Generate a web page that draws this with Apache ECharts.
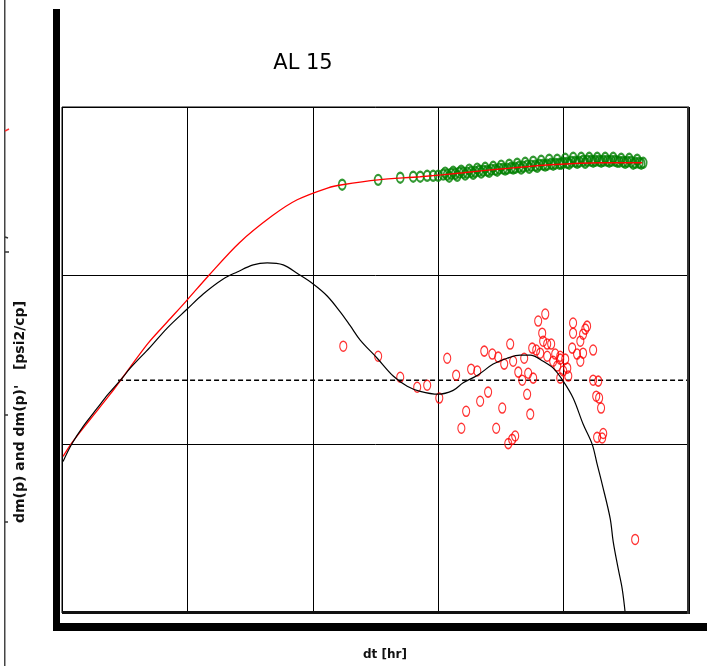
<!DOCTYPE html>
<html>
<head>
<meta charset="utf-8">
<script src="https://cdn.jsdelivr.net/npm/echarts@6/dist/echarts.min.js"></script>
<style>
html,body{margin:0;padding:0;background:#fff;}
#chart{width:707px;height:666px;}
</style>
</head>
<body>
<div id="chart"></div>
<script>
// Pressure change dm(p) – red line
var presT = [0.00102,0.001206,0.001679,0.002423,0.0035,0.004868,0.0069,0.00978,0.01492,0.02588,0.04746,0.07508,0.1327,0.1715,0.332,0.719,1.583,3.298,7.82,19.58,42.35];
var presY = [8.49,10.28,14.08,19.82,28.68,39.8,53.1,70.7,101,156.4,226.3,281.8,332,346,370,386,407.6,430.5,454.7,467.3,467.3];

// Pressure data points – green markers
var greenT = [0.1715,0.332,0.498,0.632,0.719,0.817,0.912,1.0,1.096,1.18,1.27,1.367,1.471,1.583,1.703,1.833,1.973,2.123,2.285,2.459,2.646,2.848,3.065,3.298,3.549,3.82,4.111,4.424,4.762,5.124,5.514,5.935,6.387,6.874,7.398,7.961,8.57,9.224,9.93,10.69,11.5,12.38,13.32,14.33,15.43,16.6,17.86,19.23,20.69,22.27,23.97,25.79,27.76,29.88,32.15,34.6,37.24,40.08,43.13,
  1.137,1.224,1.317,1.418,1.526,1.642,1.767,1.902,2.046,2.202,2.370,2.551,2.745,2.955,3.180,3.422,3.683,3.964,4.266,
  4.591,4.941,5.317,5.722,6.159,6.628,7.133,7.677,8.262,8.892,9.570,10.30,11.08,11.93,12.84,13.82,14.87,16.00,17.22,18.53,19.94,21.47,23.10,24.86,26.76,28.80,30.99,33.36,35.89,38.63,41.57];
var greenY = [346,370,381,386,386,391,391,391,397,397,402,402,408,408,408,413,413,419,419,419,425,425,431,431,431,436,436,442,442,449,449,449,455,455,455,461,461,461,467,467,474,474,474,480,480,480,480,480,480,480,480,480,474,474,474,474,467,467,467,
  408,386,413,391,419,397,425,402,431,408,436,413,442,419,449,425,455,431,461,
  431,467,436,474,442,480,449,487,455,487,461,493,461,500,467,500,467,500,474,500,474,500,474,500,474,493,467,493,461,487,461];

// Derivative model – black line
var derivT = [0.00102,0.001206,0.001476,0.001909,0.002335,0.00302,0.0035,0.00505,0.0069,0.00996,0.01337,0.0193,0.02495,0.03347,0.04329,0.05808,0.07648,0.1007,0.1302,0.1654,0.1987,0.2388,0.3263,0.4377,0.566,0.719,1.0,1.317,1.583,2.046,2.745,3.549,4.507,5.415,6.874,8.264,9.93,11.93,14.33,16.91,18.53,20.32,23.53,24.86,27.25,29.33,30.99];
var derivY = [7.92,10.14,12.79,16.37,19.82,24.67,28.28,37.7,48.9,63.4,77.9,95.6,105.2,115.8,119.0,115.8,102.3,89.3,75.8,61.0,50.5,41.5,32.4,25.4,22.1,20.6,19.82,20.9,23.2,25.6,29.9,32.4,33.8,33.8,31.1,28.28,23.7,18.76,13.15,10.0,7.60,5.79,3.63,2.65,1.83,1.39,1.0];

// Derivative data points – red markers
var dpT = [0.175,0.332,0.498,0.680,0.817,1.02,1.18,1.39,1.83,2.05,1.67,1.53,2.16,2.50,2.90,3.24,2.33,2.70,3.01,3.36,3.75,3.96,4.35,4.68,5.12,5.42,3.62,4.11,3.89,4.85,5.22,5.72,5.62,6.05,6.27,7.14,6.75,6.87,7.40,7.96,6.51,7.40,8.26,8.89,8.57,9.40,10.3,10.7,10.9,9.93,9.40,11.7,11.9,11.9,12.8,13.6,14.3,15.4,14.9,13.6,14.3,17.2,9.40,17.2,18.9,18.2,19.2,19.9,20.3,18.5,20.7,37.2];
var dpY = [38.2,33.3,25.0,21.8,22.4,18.8,32.4,25.7,27.9,27.2,15.7,12.45,18.0,20.4,12.45,16.4,35.7,34.3,32.9,29.9,39.3,31.1,26.8,24.0,19.8,15.1,10.1,11.2,10.7,32.4,26.4,24.7,37.2,36.2,53.8,59.2,45.6,40.9,39.3,39.3,34.7,33.3,31.1,29.1,34.3,33.3,32.0,28.3,25.4,27.2,24.7,37.2,52.4,45.6,34.3,40.9,45.0,50.2,48.2,31.1,34.7,36.2,32.0,24.0,23.7,19.3,18.8,16.4,10.9,11.0,11.6,2.73];

// Horizontal dashed reference line
var dashT = [0.0028,100];
var dashY = [24.0,24.0];

function zip(a,b){var r=[];for(var i=0;i<a.length;i++)r.push([a[i],b[i]]);return r;}

var chart = echarts.init(document.getElementById('chart'), null, {renderer:'canvas'});
var option = {
  backgroundColor:'#fff',
  animation:false,
  grid:{left:62,top:107,right:18,bottom:53,show:true,borderColor:'#000',borderWidth:1,backgroundColor:'#fff'},
  xAxis:{type:'log',logBase:10,min:0.001,max:100,
    axisLine:{show:false},axisTick:{show:false},axisLabel:{show:false},
    splitLine:{show:true,lineStyle:{color:'#000',width:1}}},
  yAxis:{type:'log',logBase:10,min:1,max:1000,
    axisLine:{show:false},axisTick:{show:false},axisLabel:{show:false},
    splitLine:{show:true,lineStyle:{color:'#000',width:1}}},
  series:[
    {type:'line',data:zip(dashT,dashY),symbol:'none',lineStyle:{color:'#000',width:1.5,type:[5,3]},z:2},
    {type:'scatter',data:zip(greenT,greenY),symbol:'circle',symbolSize:[7,10],
      itemStyle:{color:'rgba(0,0,0,0)',borderColor:'#008000',borderWidth:2},z:3},
    {type:'line',data:zip(presT,presY),symbol:'none',smooth:0.3,lineStyle:{color:'#ff0000',width:1.3},z:4},
    {type:'scatter',data:zip(dpT,dpY),symbol:'circle',symbolSize:[7,10],
      itemStyle:{color:'rgba(0,0,0,0)',borderColor:'#ff0000',borderWidth:1.3},z:5},
    {type:'line',data:zip(derivT,derivY),symbol:'none',smooth:0.35,lineStyle:{color:'#000',width:1.2},z:6}
  ],
  graphic:[
    {type:'rect',shape:{x:62,y:611,width:628,height:3},style:{fill:'#111'},z:100},
    {type:'rect',shape:{x:687,y:107,width:2,height:507},style:{fill:'#333'},z:100},
    {type:'rect',shape:{x:53,y:9,width:7,height:622},style:{fill:'#000'},z:100},
    {type:'rect',shape:{x:53,y:623,width:654,height:8},style:{fill:'#000'},z:100},
    {type:'rect',shape:{x:4,y:0,width:1.5,height:666},style:{fill:'#444'},z:100},
    {type:'line',shape:{x1:5,y1:131,x2:9,y2:129},style:{stroke:'#ff3030',lineWidth:1.5},z:100},
    {type:'line',shape:{x1:5,y1:237,x2:8,y2:238},style:{stroke:'#333',lineWidth:1.5},z:100},
    {type:'line',shape:{x1:5,y1:252,x2:9,y2:252},style:{stroke:'#333',lineWidth:1.5},z:100},
    {type:'line',shape:{x1:5,y1:415,x2:8,y2:415},style:{stroke:'#333',lineWidth:1.5},z:100},
    {type:'line',shape:{x1:5,y1:522,x2:8,y2:522},style:{stroke:'#333',lineWidth:1.5},z:100},
    {type:'text',x:303,y:64,style:{text:'AL 15',font:'21px "DejaVu Sans"',fill:'#000',textAlign:'center',textVerticalAlign:'middle'},z:100},
    {type:'text',x:385,y:655,style:{text:'dt [hr]',font:'bold 12px "DejaVu Sans"',fill:'#111',textAlign:'center',textVerticalAlign:'middle'},z:100},
    {type:'text',x:20,y:412,rotation:Math.PI/2,style:{text:"dm(p) and dm(p)'   [psi2/cp]",font:'bold 14px "DejaVu Sans"',fill:'#111',textAlign:'center',textVerticalAlign:'middle'},z:100}
  ]
};
chart.setOption(option);
</script>
</body>
</html>
